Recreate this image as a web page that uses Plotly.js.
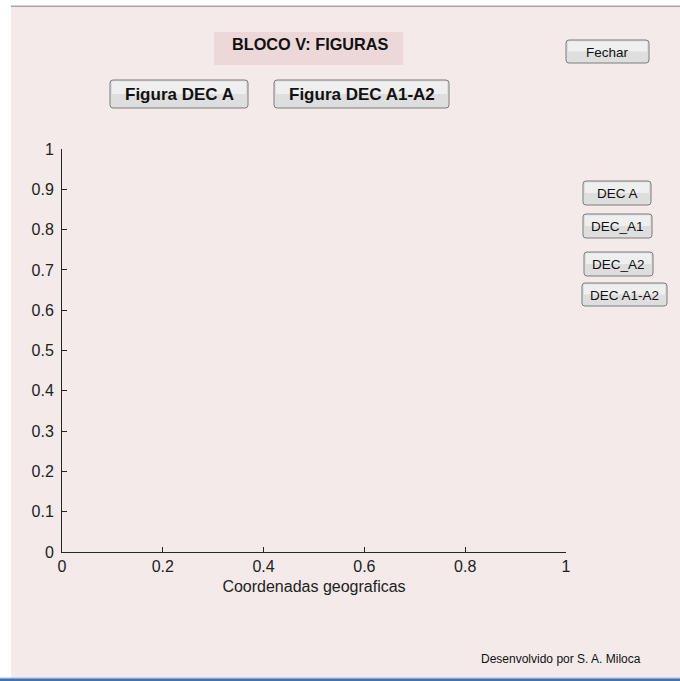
<!DOCTYPE html>
<html>
<head>
<meta charset="utf-8">
<script src="https://cdn.plot.ly/plotly-3.0.1.min.js"></script>
<style>
html,body{margin:0;padding:0;background:#ffffff;}
#chart{width:680px;height:681px;}
</style>
</head>
<body>
<div id="chart"></div>
<script>
// ---- data ----
var xTickValues = [0, 0.2, 0.4, 0.6, 0.8, 1];
var xTickLabels = ["0", "0.2", "0.4", "0.6", "0.8", "1"];
var yTickValues = [0, 0.1, 0.2, 0.3, 0.4, 0.5, 0.6, 0.7, 0.8, 0.9, 1];
var yTickLabels = ["0", "0.1", "0.2", "0.3", "0.4", "0.5", "0.6", "0.7", "0.8", "0.9", "1"];
var xAxisTitle = "Coordenadas geograficas";
var panelTitle = "BLOCO V: FIGURAS";
var bigButtons = ["Figura DEC A", "Figura DEC A1-A2"];
var closeButton = "Fechar";
var sideButtons = ["DEC A", "DEC_A1", "DEC_A2", "DEC A1-A2"];
var footerText = "Desenvolvido por S. A. Miloca";

// ---- layout geometry (pixels) ----
var W = 680, H = 681;
var L = 62, R = 566, T = 149, B = 552;
function px(x){ return (x - L) / (R - L); }
function py(y){ return (B - y) / (B - T); }

var bg = "#f4eaea";
var shapes = [];
var annotations = [];

function rect(x0,y0,x1,y1,fill,line,lw,layer){
  shapes.push({type:"rect", xref:"paper", yref:"paper", x0:px(x0), x1:px(x1), y0:py(y1), y1:py(y0),
    fillcolor:fill, line:{color:line||fill, width:lw||0}, layer:layer||"below"});
}
function roundRect(x0,y0,x1,y1,r,fill,line){
  var p = "M "+px(x0+r)+" "+py(y0)+" L "+px(x1-r)+" "+py(y0)+
    " Q "+px(x1)+" "+py(y0)+" "+px(x1)+" "+py(y0+r)+
    " L "+px(x1)+" "+py(y1-r)+
    " Q "+px(x1)+" "+py(y1)+" "+px(x1-r)+" "+py(y1)+
    " L "+px(x0+r)+" "+py(y1)+
    " Q "+px(x0)+" "+py(y1)+" "+px(x0)+" "+py(y1-r)+
    " L "+px(x0)+" "+py(y0+r)+
    " Q "+px(x0)+" "+py(y0)+" "+px(x0+r)+" "+py(y0)+" Z";
  shapes.push({type:"path", xref:"paper", yref:"paper", path:p, fillcolor:fill, line:{color:line, width:1}, layer:"below"});
}
function label(text,x,y,size,bold,color,anchor){
  annotations.push({xref:"paper", yref:"paper", x:px(x), y:py(y), text: bold ? "<b>"+text+"</b>" : text,
    showarrow:false, xanchor:anchor||"center", yanchor:"middle",
    font:{family:"Liberation Sans, Arial, sans-serif", size:size, color:color||"#111"}});
}
function button(text,x0,y0,x1,y1,size,bold){
  roundRect(x0,y0,x1,y1,3,"#dedede","#7d7d7d");
  // top highlight
  rect(x0+2,y0+1.5,x1-2,(y0+y1)/2,"#efefef",null,0,"below");
  label(text,(x0+x1)/2,(y0+y1)/2+0.5,size,bold,"#111");
}

// background regions
rect(11,6,W+2,H-3,bg,null,0,"below");
rect(11,5.5,W+2,7,"#a6a6a6",null,0,"below");
rect(0,H-3.5,W+2,H-2.5,"#a9bcd6",null,0,"below");
rect(0,H-2.5,W+2,H+2,"#3f72b5",null,0,"below");

// title box
rect(214,32,403,65,"#ecd8d8",null,0,"below");
label(panelTitle,310,44,16.3,true,"#111");

// buttons
button(bigButtons[0],110,80,248,108,17,true);
button(bigButtons[1],274,80,449,108,17,true);
button(closeButton,566,40,649,63,13.5,false);
var sideBox = [[583,181,651,205],[583,214,652,238],[584,252,653,276],[582,283,667,306]];
for (var i=0;i<sideButtons.length;i++){
  var b = sideBox[i];
  button(sideButtons[i],b[0],b[1],b[2],b[3],13.5,false);
}

// footer
label(footerText,643,659,12,false,"#111","right");

var data = [{x:[], y:[], type:"scatter", mode:"lines", showlegend:false, hoverinfo:"skip"}];

var axisFont = {family:"Liberation Sans, Arial, sans-serif", size:16, color:"#222"};
var layout = {
  width:W, height:H,
  margin:{l:L, r:W-R, t:T, b:H-B, pad:0},
  paper_bgcolor:"#ffffff",
  plot_bgcolor:"#ffffff",
  showlegend:false,
  xaxis:{range:[0,1], tickvals:xTickValues, ticktext:xTickLabels, ticks:"inside", ticklen:5, tickcolor:"#262626",
    showline:true, linecolor:"#262626", linewidth:1, mirror:false, showgrid:false, zeroline:false,
    tickfont:axisFont, fixedrange:true,
    title:{text:xAxisTitle, font:axisFont, standoff:6}},
  yaxis:{range:[0,1], tickvals:yTickValues, ticktext:yTickLabels, ticks:"inside", ticklen:5, tickcolor:"#262626",
    showline:true, linecolor:"#262626", linewidth:1, mirror:false, showgrid:false, zeroline:false,
    tickfont:axisFont, fixedrange:true, ticklabelstandoff:4},
  shapes:shapes,
  annotations:annotations
};

Plotly.newPlot("chart", data, layout, {displayModeBar:false, staticPlot:true});
</script>
</body>
</html>
